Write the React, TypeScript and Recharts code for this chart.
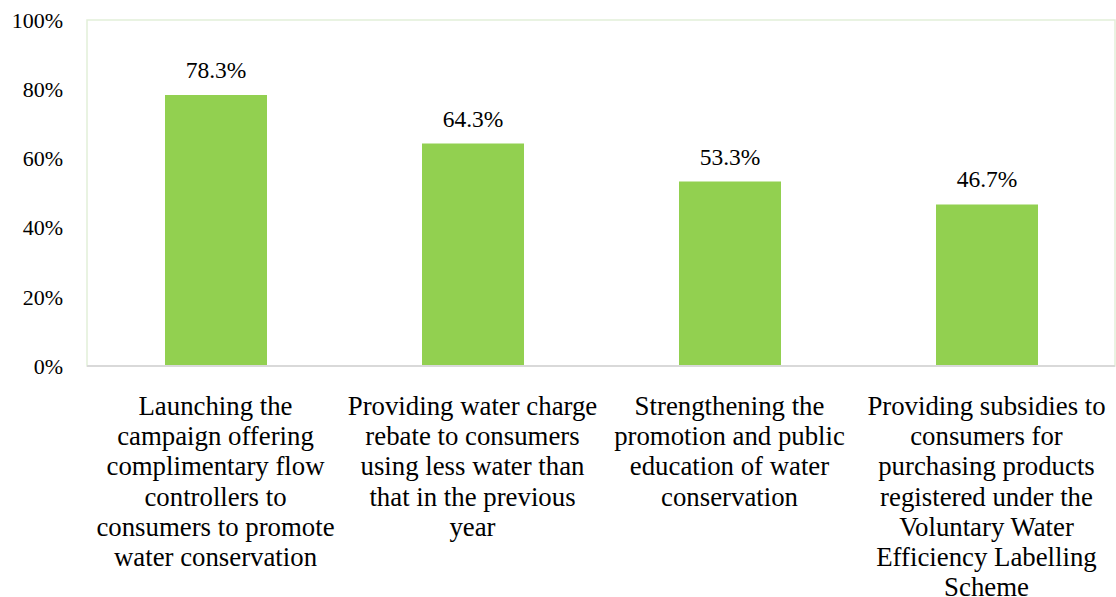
import { BarChart, Bar, XAxis, YAxis, LabelList, ReferenceArea, ReferenceLine } from 'recharts';

// measures, one line array per category label
const CATEGORY_LINES = [
    ['Launching the', 'campaign offering', 'complimentary flow', 'controllers to', 'consumers to promote', 'water conservation'],
    ['Providing water charge', 'rebate to consumers', 'using less water than', 'that in the previous', 'year'],
    ['Strengthening the', 'promotion and public', 'education of water', 'conservation'],
    ['Providing subsidies to', 'consumers for', 'purchasing products', 'registered under the', 'Voluntary Water', 'Efficiency Labelling', 'Scheme'],
];
const SHARES = [78.3, 64.3, 53.3, 46.7];
const Y_TICKS = [0, 20, 40, 60, 80, 100];

const data = CATEGORY_LINES.map((lines, i) => ({ name: String(i), share: SHARES[i] }));

const FONT = '"Liberation Serif", "Times New Roman", serif';

// multi-line category label under each bar
// eslint-disable-next-line @typescript-eslint/no-explicit-any
function CategoryTick(props: any) {
    const { x, y, payload } = props;
    const lines = CATEGORY_LINES[Number(payload.value)] || [];
    return (
        <g transform={`translate(${x},${y})`}>
            <text textAnchor="middle" fill="#000" fontSize={26.8}>
                {lines.map((line, i) => (
                    <tspan key={i} x={0} y={41 + i * 30.2}>{line}</tspan>
                ))}
            </text>
        </g>
    );
}

export default function App() {
    return (
        <div className="chart-root" style={{ position: 'absolute', left: 0, top: 0, background: '#fff' }}>
            <style>{`.chart-root svg text, .chart-root svg tspan { font-family: ${FONT} !important; }`}</style>
            <BarChart
                width={1116}
                height={597}
                data={data}
                margin={{ top: 20, right: 1, bottom: 0, left: 0 }}
            >
                <ReferenceArea y1={0} y2={100} fill="none" stroke="#e2efd9" strokeWidth={1.5} />
                <XAxis
                    dataKey="name"
                    height={231}
                    axisLine={false}
                    tickLine={false}
                    interval={0}
                    tick={<CategoryTick />}
                />
                <YAxis
                    width={87}
                    domain={[0, 100]}
                    ticks={Y_TICKS}
                    axisLine={false}
                    tickLine={false}
                    tickSize={0}
                    tickMargin={24}
                    tickFormatter={(v) => `${v}%`}
                    tick={{ fill: '#000', fontSize: 22 }}
                />
                <Bar dataKey="share" fill="#92d050" barSize={102} isAnimationActive={false}>
                    <LabelList
                        dataKey="share"
                        position="top"
                        offset={17}
                        formatter={(v: unknown) => `${Number(v).toFixed(1)}%`}
                        fill="#000"
                        fontSize={23.5}
                    />
                </Bar>
                <ReferenceLine y={0} stroke="#d9d9d9" strokeWidth={2} />
            </BarChart>
        </div>
    );
}
